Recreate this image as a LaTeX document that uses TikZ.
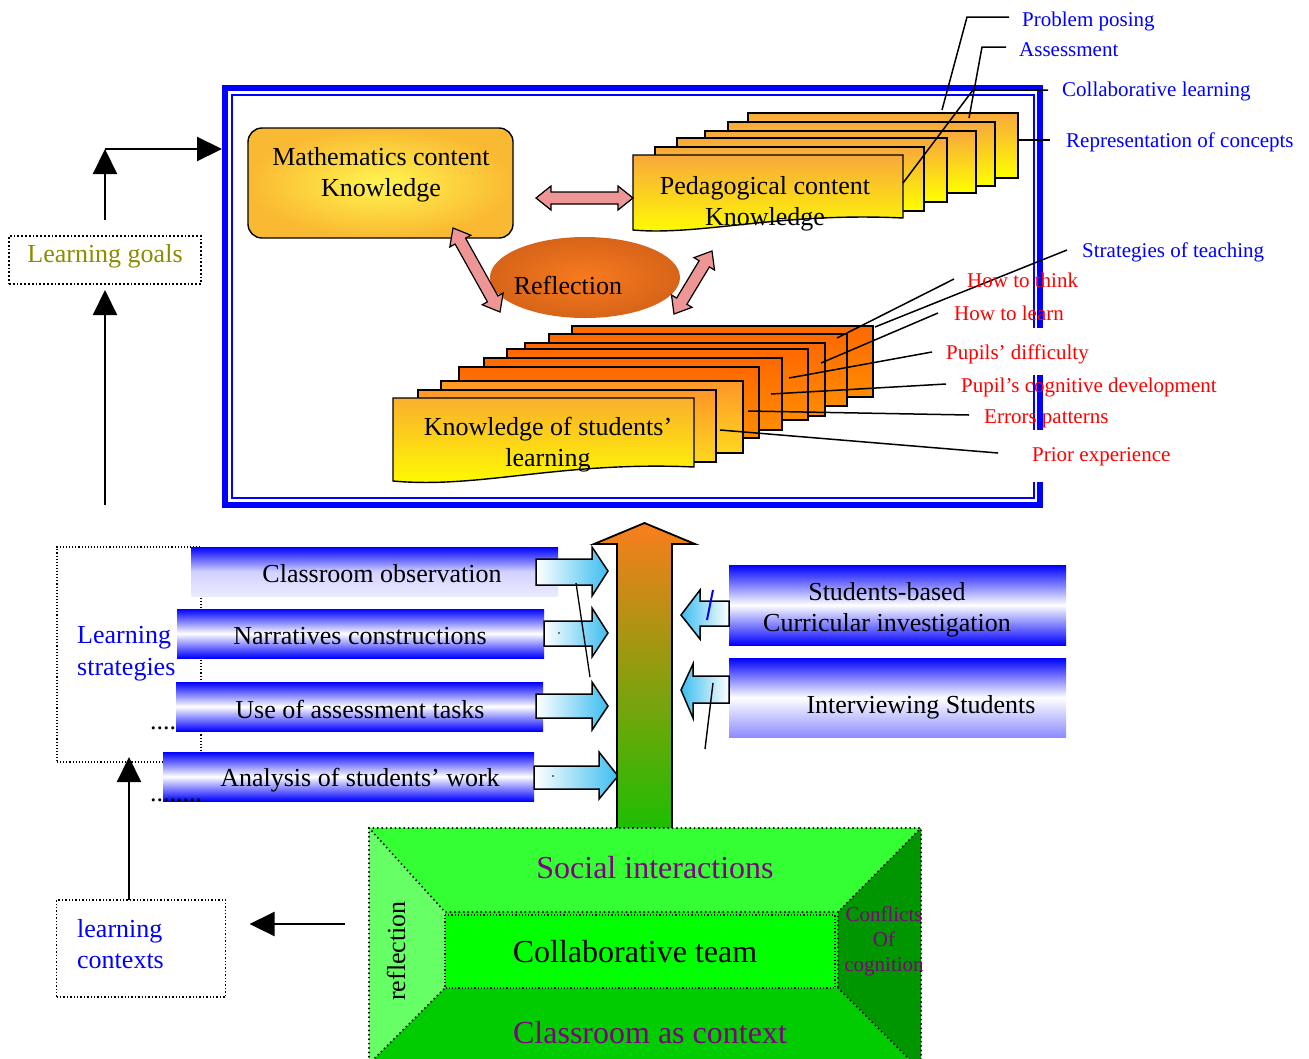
\documentclass[tikz,border=0pt]{standalone}
\usepackage{fontspec}
\setmainfont{Liberation Serif}
\usetikzlibrary{calc,arrows.meta,shapes.geometric}
\definecolor{lblue}{RGB}{60,190,240}
\definecolor{pinkA}{RGB}{238,150,150}
\definecolor{olivetxt}{RGB}{140,140,0}
\definecolor{purpletxt}{RGB}{128,0,128}
\definecolor{arrOrange}{RGB}{250,125,30}
\definecolor{arrGreen}{RGB}{30,190,0}
\definecolor{pckTop}{RGB}{248,168,60}
\definecolor{kslTop}{RGB}{250,175,45}
\definecolor{kslTopB}{RGB}{255,150,40}
\definecolor{kslBotB}{RGB}{255,215,30}
\definecolor{deepTop}{RGB}{255,105,0}
\definecolor{deepBot}{RGB}{255,140,0}
\definecolor{mckEdge}{RGB}{250,185,50}
\definecolor{mckMid}{RGB}{255,245,80}
\definecolor{reflIn}{RGB}{248,122,30}
\definecolor{reflOut}{RGB}{215,100,25}
\definecolor{gTop}{RGB}{51,255,51}
\definecolor{gLeft}{RGB}{102,255,102}
\definecolor{gRight}{RGB}{0,150,0}
\definecolor{gBot}{RGB}{0,204,0}
\definecolor{gMid}{RGB}{0,255,0}

\newcommand{\fatdbl}[2]{%
  \path ($(#1)!15pt!(#2)$) coordinate (da1) ($(#2)!15pt!(#1)$) coordinate (da2);
  \draw[pinkarrow] (#1) -- ($(da1)!12pt!90:(#2)$) -- ($(da1)!6pt!90:(#2)$) -- ($(da2)!6pt!-90:(#1)$) -- ($(da2)!12pt!-90:(#1)$) -- (#2) -- ($(da2)!12pt!90:(#1)$) -- ($(da2)!6pt!90:(#1)$) -- ($(da1)!6pt!-90:(#2)$) -- ($(da1)!12pt!-90:(#2)$) -- cycle;}

\tikzset{
  big/.style={font=\fontsize{26}{31}\selectfont, inner sep=0pt, align=center},
  lab/.style={font=\fontsize{21}{25}\selectfont, anchor=west, inner sep=0pt, text height=14pt, text depth=5pt},
  huge/.style={font=\fontsize{32}{38}\selectfont, inner sep=0pt},
  blk/.style={line width=2.2pt, -{Triangle[length=25pt,width=24pt]}},
  lead/.style={line width=1.5pt, black},
  thickdot/.style={draw, line width=1.8pt, dotted, outer sep=0pt, inner sep=0pt},
  meddot/.style={draw, line width=1.4pt, dotted, outer sep=0pt, inner sep=0pt},
  thindot/.style={draw, line width=1.1pt, dotted, outer sep=0pt, inner sep=0pt},
  pinkarrow/.style={draw=black, line width=1.2pt, fill=pinkA},
  pcksheet/.style={draw=black, line width=1.4pt, top color=pckTop, bottom color=yellow},
  kslfront/.style={draw=black, line width=1.4pt, top color=kslTop, bottom color=yellow},
  kslmid/.style={draw=black, line width=1.4pt, top color=kslTopB, bottom color=kslBotB},
  ksldeep/.style={draw=black, line width=1.4pt, top color=deepTop, bottom color=deepBot},
  barA/.style={inner sep=0pt, outer sep=0pt, top color=blue, bottom color=blue!8, middle color=blue!18},
  barB/.style={inner sep=0pt, outer sep=0pt, top color=blue, bottom color=blue, middle color=white},
  barC/.style={inner sep=0pt, outer sep=0pt, top color=blue, bottom color=blue!45, middle color=white},
  blockR/.style={draw=black, line width=1.5pt, left color=white, right color=lblue},
  blockL/.style={draw=black, line width=1.5pt, left color=lblue, right color=white},
  bigarrow/.style={draw=black, line width=1.8pt, top color=arrOrange, bottom color=arrGreen},
  gdots/.style={line width=2.2pt, dash pattern=on 0pt off 4.4pt, line cap=round},
  gfine/.style={line width=1.2pt, dotted}
}

\begin{document}
\begin{tikzpicture}[x=1pt,y=-1pt]
\useasboundingbox (0,0) rectangle (1309,1058);
\fill[white] (0,0) rectangle (1309,1058);

% ---------- blue double frame ----------
\draw[blue, line width=6pt] (1040,328) -- (1040,88) -- (225,88) -- (225,505) -- (1040,505) -- (1040,482);
\draw[blue, line width=6pt] (1040,375) -- (1040,430);
\draw[blue, line width=1.5pt] (1034,328) -- (1034,95) -- (232,95) -- (232,498) -- (1034,498) -- (1034,482);
\draw[blue, line width=1.5pt] (1034,375) -- (1034,430);

% ---------- Mathematics content knowledge ----------
\node[draw=black, line width=1.4pt, rounded corners=14pt, minimum width=265pt, minimum height=110pt,
      inner color=mckMid, outer color=mckEdge, inner sep=0pt, outer sep=0pt] (mck) at (380.5,183) {};
\node[big] (mcktxt) at (381,174.5) {Mathematics content\\Knowledge};

% ---------- Pedagogical content knowledge stack ----------
\shade[pcksheet] (748,113) rectangle (1018,178);
\shade[pcksheet] (728,122) rectangle (995,186);
\shade[pcksheet] (705,131) rectangle (976,193);
\shade[pcksheet] (677,138) rectangle (947,202);
\shade[pcksheet] (655,147) rectangle (924,211);
\shade[pcksheet] (633,155) -- (903,155) -- (903,218) .. controls (780,212) and (700,236) .. (633,230) -- cycle;
\node[big] (pcktxt) at (765,203.5) {Pedagogical content\\Knowledge};

% ---------- Reflection ----------
\node[ellipse, minimum width=190pt, minimum height=81pt, inner color=reflIn, outer color=reflOut, inner sep=0pt] (refl) at (585,277.5) {};
\node[big] (refltxt) at (568,285) {Reflection};

% ---------- Knowledge of students' learning stack ----------
\shade[ksldeep] (572,326) rectangle (873,397);
\shade[ksldeep] (549,334) rectangle (847,406);
\shade[ksldeep] (525,343) rectangle (825,416);
\shade[ksldeep] (507,349) rectangle (808,420);
\shade[ksldeep] (484,358) rectangle (782,430);
\shade[ksldeep] (459,367) rectangle (759,438);
\shade[kslmid] (441,381) rectangle (743,453);
\shade[kslmid] (418,390) rectangle (716,462);
\shade[kslfront] (393,398) -- (694,398) -- (694,467) .. controls (560,461) and (480,489) .. (393,481) -- cycle;
\node[big] (ksltxt) at (548,444.5) {Knowledge of students’\\learning};

% ---------- pink double arrows ----------
\coordinate (pa1) at (536,198);
\coordinate (pa2) at (633,198);
\coordinate (pb1) at (453,228);
\coordinate (pb2) at (500,312);
\coordinate (pc1) at (674,314);
\coordinate (pc2) at (712,251);
\fatdbl{pa1}{pa2}
\fatdbl{pb1}{pb2}
\fatdbl{pc1}{pc2}

% ---------- leader lines ----------
\draw[lead] (1009,17) -- (967,17) -- (942,110);
\draw[lead] (1006,47) -- (982,47) -- (969,118);
\draw[lead] (1048,90) -- (973,90) -- (903,183);
\draw[lead] (1050,140) -- (1018,140);
\draw[lead] (1067,250) -- (875,327);
\draw[lead] (954,279) -- (837,338);
\draw[lead] (938,313) -- (821,363);
\draw[lead] (932,352) -- (789,378);
\draw[lead] (946,384) -- (771,394);
\draw[lead] (969,415) -- (748,411);
\draw[lead] (998,453) -- (720,430);

% ---------- labels ----------
\node[lab, blue] (l1) at (1022,22) {Problem posing};
\node[lab, blue] (l2) at (1019,52) {Assessment};
\node[lab, blue] (l3) at (1062,92) {Collaborative learning};
\node[lab, blue] (l4) at (1066,143) {Representation of concepts};
\node[lab, blue] (l5) at (1082,253) {Strategies of teaching};
\node[lab, red] (r1) at (967,283) {How to think};
\node[lab, red] (r2) at (954,316) {How to learn};
\node[lab, red] (r3) at (946,355) {Pupils’ difficulty};
\node[lab, red] (r4) at (961,388) {Pupil’s cognitive development};
\node[lab, red] (r5) at (984,419) {Errors patterns};
\node[lab, red] (r6) at (1032,457) {Prior experience};

% ---------- Learning goals ----------
\node[thickdot, minimum width=192pt, minimum height=48pt] (goals) at (105,260) {};
\node[big, text=olivetxt] (goalstxt) at (105,256) {Learning goals};
\coordinate (gtop) at (105,149);
\coordinate (frameL) at (222,149);
\coordinate (goalsfrom) at (105,505);
\draw[blk] (goalsfrom) -- ([yshift=-6pt]goals.south);
\draw[blk] ([yshift=16pt]goals.north) -- (gtop);
\draw[blk] (gtop) -- (frameL);

% ---------- Learning strategies ----------
\node[thindot, minimum width=144pt, minimum height=215pt] (strat) at (129,654.5) {};
\node[font=\fontsize{26}{32}\selectfont, text=blue, align=left, anchor=west, inner sep=0pt] (strattxt) at (77,654) {Learning\\strategies};

% bars
\node[barA, minimum width=367pt, minimum height=49pt] (co) at (374.5,571.5) {};
\node[barB, minimum width=367pt, minimum height=49pt] (nc) at (360.5,633.5) {};
\node[barB, minimum width=367pt, minimum height=49pt] (ua) at (359.5,706.5) {};
\node[barB, minimum width=371pt, minimum height=49pt] (as) at (348.5,776.5) {};
\node[big] (cotxt) at (382,574) {Classroom observation};
\node[big] (nctxt) at (360,636) {Narratives constructions};
\node[big] (uatxt) at (360,709) {Use of assessment tasks};
\node[big] (astxt) at (360,780) {Analysis of students’ work};
\node[font=\fontsize{26}{31}\selectfont, anchor=base west, inner sep=0pt] (dots1) at (150,729.5) {....};
\node[font=\fontsize{26}{31}\selectfont, anchor=base west, inner sep=0pt] (dots2) at (150,801.5) {........};

% block arrows to the central arrow
\shade[blockR] (536,559) -- (592,559) -- (592,547) -- (608,571) -- (592,596) -- (592,585) -- (536,585) -- cycle;
\shade[blockR] (544,621) -- (592,621) -- (592,608) -- (608,633) -- (592,657) -- (592,646) -- (544,646) -- cycle;
\shade[blockR] (536,694) -- (592,694) -- (592,682) -- (608,706) -- (592,730) -- (592,718) -- (536,718) -- cycle;
\shade[blockR] (534,766) -- (599,766) -- (599,752) -- (618,776) -- (599,799) -- (599,789) -- (534,789) -- cycle;
\fill (559,633) circle (0.9pt);
\fill (553,776) circle (0.9pt);
\draw[line width=1.3pt] (576,583) -- (590,677);

% central arrow
\shade[bigarrow] (617,828) -- (617,544) -- (594,544) -- (644.5,523) -- (695,544) -- (672,544) -- (672,828);

% right boxes
\node[barB, minimum width=337pt, minimum height=80pt] (sb) at (897.5,605) {};
\node[barC, minimum width=337pt, minimum height=79pt] (is) at (897.5,697.5) {};
\node[big] (sbtxt) at (887,610) {Students-based\\Curricular investigation};
\node[big] (istxt) at (921,707) {Interviewing Students};
\shade[blockL] (729,601) -- (700,601) -- (700,590) -- (681,615) -- (700,639) -- (700,626) -- (729,626) -- cycle;
\shade[blockL] (729,676) -- (693,676) -- (693,664) -- (681,690) -- (693,718) -- (693,703) -- (729,703) -- cycle;
\draw[blue, line width=2pt] (713,590) -- (707,620);
\draw[line width=1.4pt] (713,683) -- (705,749);

% ---------- green bevel box ----------
\begin{scope}
\clip (0,0) rectangle (1309,1058);
\fill[gTop] (369,828) -- (921,828) -- (838,912) -- (445,912) -- cycle;
\fill[gLeft] (369,828) -- (445,912) -- (445,988) -- (369,1064) -- cycle;
\fill[gRight] (921,828) -- (838,912) -- (838,988) -- (921,1071) -- cycle;
\fill[gBot] (369,1064) -- (445,988) -- (838,988) -- (921,1071) -- (921,1080) -- (369,1080) -- cycle;
\fill[gMid] (445,912) rectangle (838,988);
\draw[gdots] (369,1070) -- (369,828) -- (921,828) -- (921,1070);
\draw[gdots] (369,828) -- (445,912) -- (838,912) -- (921,828);
\draw[gdots] (369,1064) -- (445,988);
\draw[gdots] (838,988) -- (921,1071);
\draw[gdots] (838,912) -- (838,988);
\draw[gfine] (445,915) rectangle (835,988);
\end{scope}
\coordinate (greenW) at (369,924);
\node[huge, text=purpletxt] (soc) at (655,868) {Social interactions};
\node[huge] (team) at (635,952) {Collaborative team};
\node[huge, text=purpletxt] (room) at (650,1033) {Classroom as context};
\node[font=\fontsize{26}{31}\selectfont, rotate=90, inner sep=0pt] (refl2) at (396,951) {reflection};
\node[font=\fontsize{21}{25}\selectfont, text=purpletxt, align=center, inner sep=0pt] (conf) at (884,941) {Conflicts\\Of\\cognition};

% ---------- learning contexts ----------
\node[meddot, minimum width=169pt, minimum height=97pt] (ctx) at (141,948.5) {};
\node[font=\fontsize{26}{31}\selectfont, text=blue, align=left, anchor=west, inner sep=0pt] (ctxtxt) at (77,944) {learning\\contexts};
\draw[blk, shorten <=24pt] (greenW) -- ($(ctx.east|-greenW)+(24,0)$);
\draw[blk] ([xshift=-12pt]ctx.north) -- ([yshift=5pt]strat.south);
\end{tikzpicture}
\end{document}
